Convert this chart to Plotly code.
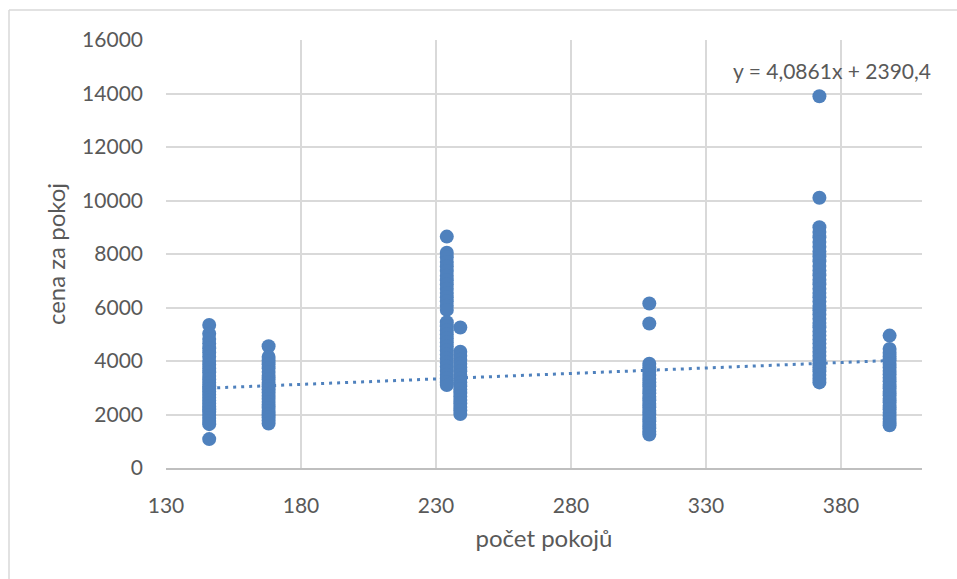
import plotly.graph_objects as go

# ---- data ----
x_146 = 146
y_146 = [5350, 5020, 4820, 4650, 4480, 4320, 4160, 4000, 3860, 3720, 3580, 3440, 3310,
         3190, 3060, 2950, 2850, 2740, 2630, 2520, 2410, 2300, 2200, 2090, 1980, 1870,
         1760, 1640, 1080]
x_168 = 168
y_168 = [4550, 4150, 4020, 3880, 3730, 3590, 3450, 3320, 3190, 3060, 2940, 2820, 2700,
         2590, 2470, 2360, 2240, 2130, 2010, 1900, 1780, 1660]
x_234 = 234
y_234 = [8650, 8050, 7880, 7700, 7530, 7360, 7190, 7020, 6860, 6700, 6540, 6380, 6230,
         6070, 5910, 5450, 5300, 5140, 4990, 4840, 4690, 4540, 4390, 4240, 4090, 3940,
         3790, 3640, 3490, 3350, 3210, 3100]
x_239 = 239
y_239 = [5250, 4350, 4200, 4050, 3900, 3760, 3620, 3480, 3340, 3200, 3060, 2930, 2800,
         2670, 2540, 2410, 2280, 2150, 2020]
x_309 = 309
y_309 = [6150, 5400, 3900, 3760, 3620, 3480, 3340, 3200, 3060, 2920, 2790, 2660, 2530,
         2400, 2270, 2140, 2010, 1880, 1750, 1620, 1490, 1360, 1250]
x_372 = 372
y_372 = [13900, 10100, 9000, 8820, 8630, 8450, 8270, 8090, 7910, 7730, 7550, 7380, 7210,
         7040, 6870, 6700, 6540, 6380, 6220, 6060, 5900, 5740, 5580, 5420, 5260, 5100,
         4950, 4800, 4650, 4500, 4350, 4200, 4050, 3900, 3760, 3620, 3480, 3340, 3200]
x_398 = 398
y_398 = [4950, 4450, 4310, 4170, 4030, 3890, 3760, 3630, 3500, 3370, 3240, 3110, 2980,
         2850, 2720, 2590, 2460, 2330, 2200, 2070, 1950, 1830, 1720, 1600]

groups = [(x_146, y_146), (x_168, y_168), (x_234, y_234), (x_239, y_239),
          (x_309, y_309), (x_372, y_372), (x_398, y_398)]

trend_slope = 4.0861
trend_intercept = 2390.4
trend_label = "y = 4,0861x + 2390,4"

x_title = "počet pokojů"
y_title = "cena za pokoj"

# ---- build ----
xs, ys = [], []
for gx, gy in groups:
    xs += [gx] * len(gy)
    ys += gy

x_min, x_max = min(xs), max(xs)
trend_x = [x_min, x_max]
trend_y = [trend_slope * v + trend_intercept for v in trend_x]

BLUE = "#4f81bd"
GRID = "#d9d9d9"
TXT = "#595959"
FONT = "Lato"

fig = go.Figure()
fig.add_trace(go.Scatter(x=xs, y=ys, mode="markers",
                         marker=dict(size=14, color=BLUE, line=dict(width=0)),
                         showlegend=False))
fig.add_trace(go.Scatter(x=trend_x, y=trend_y, mode="lines",
                         line=dict(color=BLUE, width=3, dash="3px,5px"),
                         showlegend=False))

W, H = 957, 579
L, R, T, B = 166, 35, 40, 111
pw, ph = W - L - R, H - T - B

def px(xp):
    return (xp - L) / pw

def py(yp):
    return (H - B - yp) / ph

fig.update_layout(
    width=W, height=H,
    margin=dict(l=L, r=R, t=T, b=B),
    paper_bgcolor="white", plot_bgcolor="white",
    font=dict(family=FONT, size=21, color=TXT),
    xaxis=dict(range=[130, 410], tick0=130, dtick=50, showgrid=True, gridcolor=GRID,
               gridwidth=1.5, zeroline=False, showline=True, linecolor="#bfbfbf",
               linewidth=1.5, ticks="", ticklabelstandoff=18, tickformat="d",
               title=dict(text=x_title, standoff=14, font=dict(size=24, color=TXT))),
    yaxis=dict(range=[0, 16000], dtick=2000, showgrid=True, gridcolor=GRID,
               gridwidth=1.5, zeroline=False, showline=False, ticks="",
               ticklabelstandoff=22, tickformat="d",
               title=dict(text=y_title, standoff=9, font=dict(size=24, color=TXT))),
    annotations=[dict(x=376.7, y=14850, xref="x", yref="y", text=trend_label,
                      showarrow=False, font=dict(size=21, color=TXT))],
    shapes=[
        dict(type="line", xref="paper", yref="paper", x0=px(9), x1=px(957),
             y0=py(10), y1=py(10), line=dict(color=GRID, width=1.5)),
        dict(type="line", xref="paper", yref="paper", x0=px(9), x1=px(9),
             y0=py(10), y1=py(579), line=dict(color=GRID, width=1.5)),
    ],
)

fig.write_html("out.html")
